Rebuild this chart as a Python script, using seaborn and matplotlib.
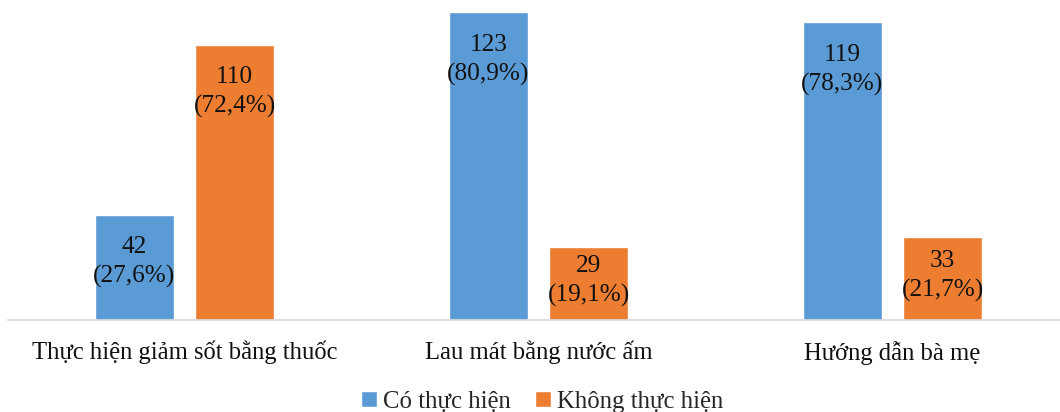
import pandas as pd
import matplotlib.pyplot as plt
import seaborn as sns

# Chart data
categories = ['Thực hiện giảm sốt bằng thuốc', 'Lau mát bằng nước ấm', 'Hướng dẫn bà mẹ']
groups = ['Có thực hiện', 'Không thực hiện']
yes_counts = [42, 123, 119]
no_counts = [110, 29, 33]
yes_pct = [27.6, 80.9, 78.3]
no_pct = [72.4, 19.1, 21.7]

df = pd.DataFrame({
    'Category': categories * 2,
    'Group': [groups[0]] * 3 + [groups[1]] * 3,
    'Count': yes_counts + no_counts,
    'Pct': yes_pct + no_pct,
})

sns.set_style('white')
plt.rcParams['font.family'] = ['Liberation Serif', 'DejaVu Serif']

fig = plt.figure(figsize=(10.6, 4.12), dpi=100)
ax = fig.add_axes([7.5 / 1060, 92 / 412, 1052.5 / 1060, 320 / 412])

sns.barplot(data=df, x='Category', y='Count', hue='Group', hue_order=groups,
            palette=['#5B9BD5', '#ED7D31'], width=0.565, gap=0.21,
            saturation=1, ax=ax)

ax.set_xlim(-0.5, -0.5 + 1052.5 / 354)
ax.set_ylim(0, 127.8)
ax.set_xlabel('')
ax.set_ylabel('')
ax.set_yticks([])
for side in ['left', 'right', 'top']:
    ax.spines[side].set_visible(False)
ax.spines['bottom'].set_color('#d9d9d9')
ax.spines['bottom'].set_linewidth(1.2)
ax.tick_params(axis='x', length=0, pad=15, labelsize=17.7, colors='#111111')

# value labels inside the bars
pcts = [yes_pct, no_pct]
counts = [yes_counts, no_counts]
for i, cont in enumerate(ax.containers):
    for j, bar in enumerate(cont):
        v = counts[i][j]
        x = bar.get_x() + bar.get_width() / 2
        y = max(v / 2 + 1, v - 19)
        txt = f"{v}\n({str(pcts[i][j]).replace('.', ',')}%)"
        ax.text(x, y, txt, ha='center', va='center', fontsize=18.2,
                linespacing=1.4, color='#111111')

sns.move_legend(ax, 'center', bbox_to_anchor=(0.508, -0.255), ncol=2,
                frameon=False, title=None, fontsize=17.8, handlelength=0.65,
                handleheight=0.65, handletextpad=0.25, columnspacing=0.95)

fig.savefig('out.png', dpi=100)
